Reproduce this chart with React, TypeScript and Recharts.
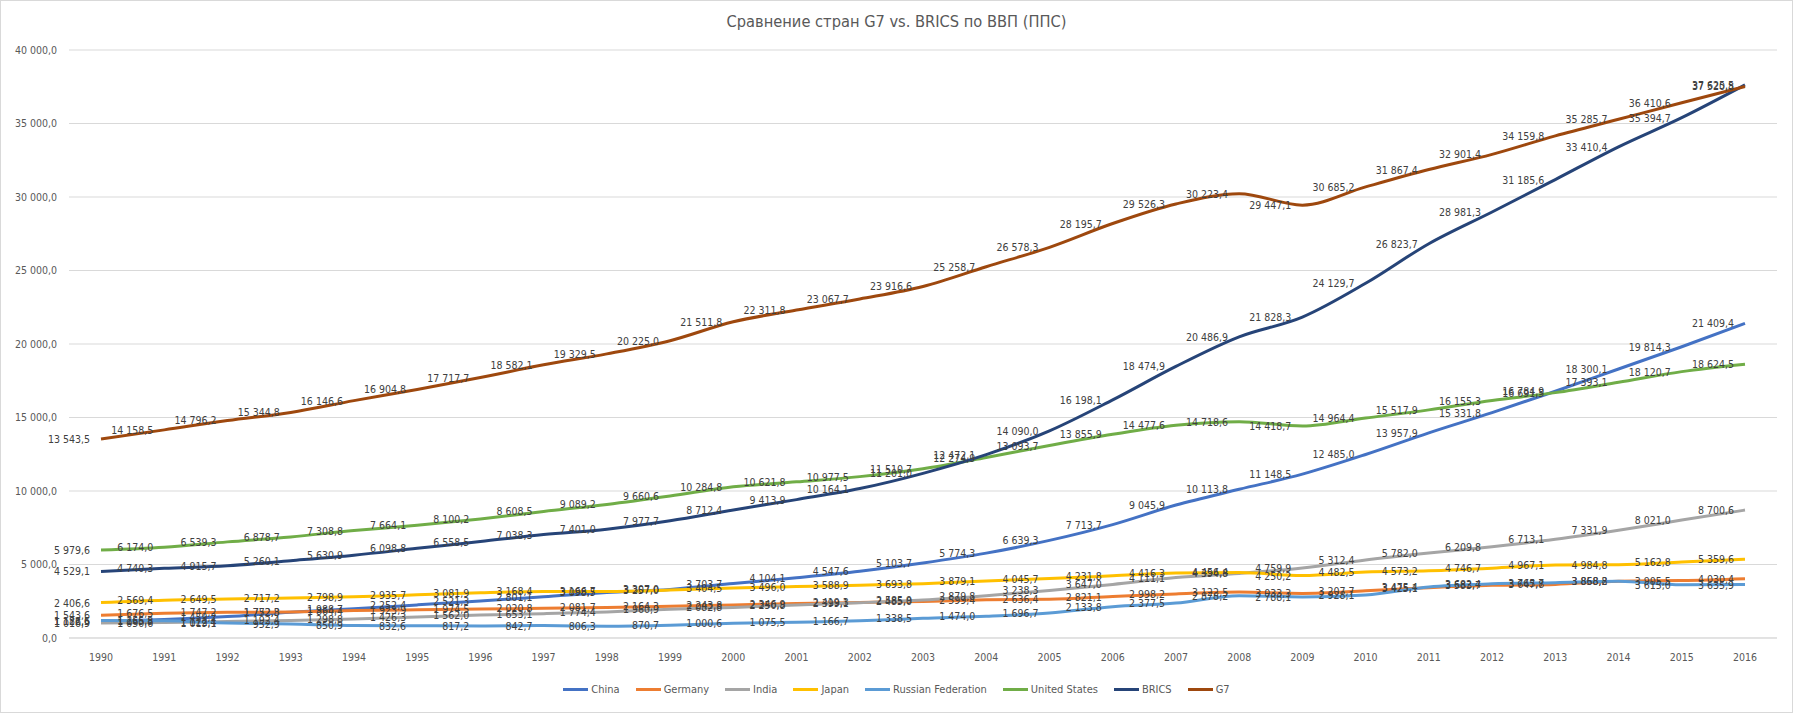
import { LineChart, Line, XAxis, YAxis, CartesianGrid, LabelList } from "recharts";

const years = [
  "1990", "1991", "1992", "1993", "1994", "1995", "1996", "1997", "1998", "1999",
  "2000", "2001", "2002", "2003", "2004", "2005", "2006", "2007", "2008", "2009",
  "2010", "2011", "2012", "2013", "2014", "2015", "2016",
];

const china = [
  1122.6, 1255.5, 1459.2, 1752.3, 1988.7, 2252.4, 2521.3, 2801.1, 3098.5, 3307.0,
  3703.7, 4104.1, 4547.6, 5103.7, 5774.3, 6639.3, 7713.7, 9045.9, 10113.8, 11148.5,
  12485.0, 13957.9, 15331.8, 16784.9, 18300.1, 19814.3, 21409.4,
];
const germany = [
  1543.6, 1676.5, 1747.2, 1772.8, 1864.4, 1923.9, 1974.5, 2020.8, 2081.7, 2164.3,
  2243.8, 2346.9, 2419.3, 2485.0, 2599.4, 2636.4, 2821.1, 2998.2, 3122.5, 3033.3,
  3207.7, 3425.1, 3583.7, 3647.8, 3868.8, 3905.5, 4030.4,
];
const india = [
  1016.9, 1050.6, 1122.4, 1192.4, 1298.8, 1426.3, 1562.0, 1653.1, 1774.4, 1960.9,
  2082.8, 2250.8, 2399.1, 2585.9, 2879.8, 3238.3, 3647.0, 4111.1, 4394.8, 4759.9,
  5312.4, 5782.0, 6209.8, 6713.1, 7331.9, 8021.0, 8700.6,
];
const japan = [
  2406.6, 2569.4, 2649.5, 2717.2, 2798.9, 2935.7, 3081.9, 3168.4, 3166.7, 3257.0,
  3404.5, 3496.0, 3588.9, 3693.8, 3879.1, 4045.7, 4231.8, 4416.3, 4456.4, 4250.2,
  4482.5, 4573.2, 4746.7, 4967.1, 4984.8, 5162.8, 5359.6,
];
const russia = [
  1186.5, 1165.8, 1019.1, 952.9, 850.9, 832.6, 817.2, 842.7, 806.3, 870.7,
  1000.6, 1075.5, 1166.7, 1338.5, 1474.0, 1696.7, 2133.8, 2377.5, 2878.2, 2788.1,
  2928.1, 3475.4, 3682.4, 3765.7, 3858.2, 3615.0, 3635.9,
];
const usa = [
  5979.6, 6174.0, 6539.3, 6878.7, 7308.8, 7664.1, 8100.2, 8608.5, 9089.2, 9660.6,
  10284.8, 10621.8, 10977.5, 11510.7, 12274.9, 13093.7, 13855.9, 14477.6, 14718.6, 14418.7,
  14964.4, 15517.9, 16155.3, 16691.5, 17393.1, 18120.7, 18624.5,
];
const brics = [
  4529.1, 4740.3, 4915.7, 5260.1, 5630.9, 6098.8, 6558.5, 7038.3, 7401.0, 7977.7,
  8712.4, 9413.9, 10164.1, 11201.0, 12472.1, 14090.0, 16198.1, 18474.9, 20486.9, 21828.3,
  24129.7, 26823.7, 28981.3, 31185.6, 33410.4, 35394.7, 37625.5,
];
const g7 = [
  13543.5, 14158.5, 14796.2, 15344.8, 16146.6, 16904.8, 17717.7, 18582.1, 19329.5, 20225.0,
  21511.8, 22311.8, 23067.7, 23916.6, 25258.7, 26578.3, 28195.7, 29526.3, 30223.4, 29447.1,
  30685.2, 31867.4, 32901.4, 34159.8, 35285.7, 36410.6, 37520.8,
];

const yTicks = [0, 5000, 10000, 15000, 20000, 25000, 30000, 35000, 40000];

const series = [
  { key: "china", name: "China", color: "#4472C4", values: china },
  { key: "germany", name: "Germany", color: "#ED7D31", values: germany },
  { key: "india", name: "India", color: "#A5A5A5", values: india },
  { key: "japan", name: "Japan", color: "#FFC000", values: japan },
  { key: "russia", name: "Russian Federation", color: "#5B9BD5", values: russia },
  { key: "usa", name: "United States", color: "#70AD47", values: usa },
  { key: "brics", name: "BRICS", color: "#264478", values: brics },
  { key: "g7", name: "G7", color: "#9E480E", values: g7 },
];

const data = years.map((year, i) => {
  const row: Record<string, string | number> = { year };
  series.forEach((s) => {
    row[s.key] = s.values[i];
  });
  return row;
});

const FONT = "'Liberation Sans Narrow', 'DejaVu Sans Condensed', Arial, sans-serif";

// 13543.5 -> "13 543,5"
function fmt(v: number) {
  const [int, dec] = v.toFixed(1).split(".");
  return int.replace(/\B(?=(\d{3})+(?!\d))/g, " ") + "," + dec;
}

const renderLabel = (props: any) => {
  const { x, y, value } = props;
  return (
    <text
      x={x - 11}
      y={y}
      textAnchor="end"
      dominantBaseline="central"
      fontSize={10.5}
      fontFamily={FONT}
      fill="#404040"
    >
      {fmt(Number(value))}
    </text>
  );
};

export default function App() {
  return (
    <div
      style={{
        position: "absolute",
        left: 0,
        top: 0,
        width: 1793,
        height: 713,
        boxSizing: "border-box",
        border: "1px solid #D9D9D9",
        background: "#fff",
        fontFamily: FONT,
      }}
    >
      <div
        style={{
          position: "absolute",
          top: 11,
          left: 0,
          width: "100%",
          textAlign: "center",
          fontSize: 16.3,
          color: "#595959",
        }}
      >
        Сравнение стран G7 vs. BRICS по ВВП (ППС)
      </div>
      <div style={{ position: "absolute", left: -1, top: -1 }}>
        <LineChart
          width={1793}
          height={713}
          data={data}
          margin={{ top: 50, right: 16, left: 8, bottom: 45 }}
        >
          <CartesianGrid vertical={false} stroke="#D9D9D9" />
          <XAxis
            dataKey="year"
            axisLine={{ stroke: "#D9D9D9" }}
            tickLine={false}
            tickSize={0}
            tickMargin={16}
            height={30}
            interval={0}
            padding={{ left: 32, right: 32 }}
            tick={{ fill: "#595959", fontSize: 10.5, fontFamily: FONT }}
          />
          <YAxis
            domain={[0, 40000]}
            ticks={yTicks}
            width={61}
            axisLine={false}
            tickLine={false}
            tickSize={0}
            tickMargin={12}
            tickFormatter={(v: number) => fmt(v)}
            tick={{ fill: "#595959", fontSize: 10.5, fontFamily: FONT }}
          />
          {series.map((s) => (
            <Line
              key={s.key}
              type="monotone"
              dataKey={s.key}
              name={s.name}
              stroke={s.color}
              strokeWidth={3}
              dot={false}
              isAnimationActive={false}
            >
              <LabelList dataKey={s.key} content={renderLabel} />
            </Line>
          ))}
        </LineChart>
      </div>
      <div
        style={{
          position: "absolute",
          top: 682,
          left: 0,
          width: "100%",
          display: "flex",
          justifyContent: "center",
          fontSize: 11,
          color: "#595959",
        }}
      >
        {series.map((s) => (
          <div
            key={s.key}
            style={{ display: "flex", alignItems: "center", margin: "0 8px" }}
          >
            <span
              style={{
                display: "inline-block",
                width: 25,
                height: 3,
                background: s.color,
                marginRight: 3,
              }}
            />
            <span>{s.name}</span>
          </div>
        ))}
      </div>
    </div>
  );
}
